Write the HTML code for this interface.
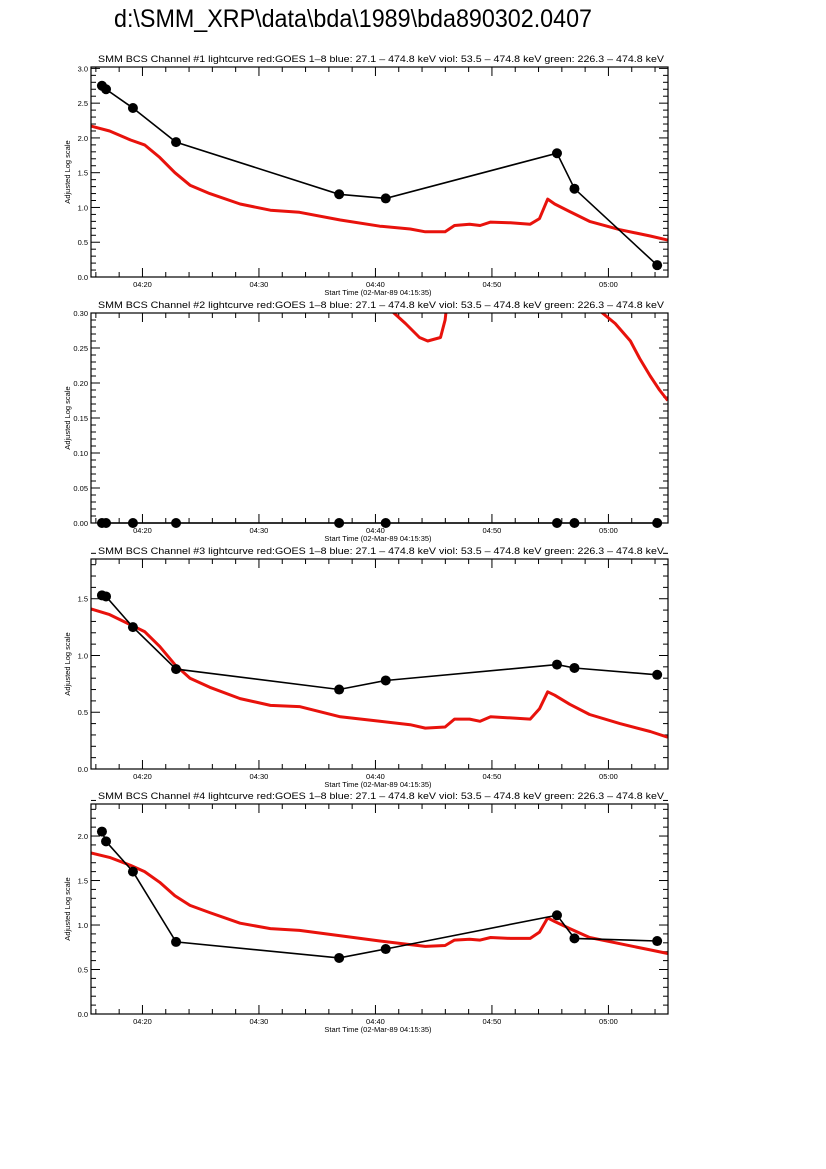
<!DOCTYPE html>
<html><head><meta charset="utf-8"><style>
html,body{margin:0;padding:0;background:#fff;}
svg{display:block;font-family:"Liberation Sans",sans-serif;}
</style></head><body>
<svg id="chart" width="826" height="1169" viewBox="0 0 826 1169" xmlns="http://www.w3.org/2000/svg">
<rect width="826" height="1169" fill="#fff"/>
<text x="114" y="27" font-size="25" textLength="478" lengthAdjust="spacingAndGlyphs">d:\SMM_XRP\data\bda\1989\bda890302.0407</text>
</svg>
<script>
// time in minutes since 04:15:35
const dotTimes = [0.94, 1.29, 3.6, 7.3, 21.3, 25.3, 40.0, 41.5, 48.6];
const dotVals1 = [2.75, 2.70, 2.43, 1.94, 1.19, 1.13, 1.78, 1.27, 0.17];
const dotVals2 = [0, 0, 0, 0, 0, 0, 0, 0, 0];
const dotVals3 = [1.53, 1.52, 1.25, 0.88, 0.70, 0.78, 0.92, 0.89, 0.83];
const dotVals4 = [2.05, 1.94, 1.60, 0.81, 0.63, 0.73, 1.11, 0.85, 0.82];
const redTimes = [0,1.6,3.4,4.6,5.9,7.2,8.5,10.2,12.8,15.4,17.9,21.4,24.8,27.4,28.7,30.4,31.2,32.5,33.4,34.3,36.0,37.7,38.5,39.2,39.8,41.1,42.8,45.4,48.0,49.5];
const redVals1 = [2.17,2.10,1.97,1.90,1.72,1.50,1.32,1.20,1.05,0.96,0.93,0.82,0.73,0.69,0.65,0.65,0.74,0.76,0.74,0.79,0.78,0.76,0.84,1.12,1.05,0.94,0.80,0.68,0.59,0.53];
const redVals3 = [1.41,1.36,1.27,1.21,1.08,0.92,0.80,0.72,0.62,0.56,0.55,0.46,0.42,0.39,0.36,0.37,0.44,0.44,0.42,0.46,0.45,0.44,0.53,0.68,0.65,0.57,0.48,0.40,0.33,0.28];
const redVals4 = [1.81,1.76,1.67,1.60,1.48,1.33,1.22,1.14,1.02,0.96,0.94,0.88,0.82,0.78,0.76,0.77,0.83,0.84,0.83,0.86,0.85,0.85,0.92,1.08,1.04,0.96,0.86,0.79,0.72,0.68];
const red2TimesA = [25.2,26.0,27.0,28.2,28.9,30.0,30.4,30.6];
const red2ValsA = [0.32,0.30,0.285,0.265,0.26,0.265,0.29,0.32];
const red2TimesB = [43.5,43.9,45.0,46.3,47.1,48.0,48.8,49.5];
const red2ValsB = [0.32,0.30,0.285,0.26,0.235,0.21,0.19,0.175];
const xTickLabels = ["04:20","04:30","04:40","04:50","05:00"];
const xTickTimes = [4.417, 14.417, 24.417, 34.417, 44.417];

const NS = "http://www.w3.org/2000/svg";
const svg = document.getElementById('chart');
const X0 = 91, X1 = 668, TMAX = 49.53, H = 210;
function xs(t){ return X0 + t/TMAX*(X1-X0); }
function mk(tag, attrs, parent){
  const e = document.createElementNS(NS, tag);
  for (const k in attrs) e.setAttribute(k, attrs[k]);
  (parent||svg).appendChild(e);
  return e;
}
const panels = [
  {n:1, top:67, ymax:3.02, major:0.5, minor:0.1, dec:1, dots:dotVals1, reds:[[redTimes, redVals1]]},
  {n:2, top:313, ymax:0.30, major:0.05, minor:0.01, dec:2, dots:dotVals2, reds:[[red2TimesA, red2ValsA],[red2TimesB, red2ValsB]]},
  {n:3, top:559, ymax:1.85, major:0.5, minor:0.1, dec:1, dots:dotVals3, reds:[[redTimes, redVals3]]},
  {n:4, top:804, ymax:2.36, major:0.5, minor:0.1, dec:1, dots:dotVals4, reds:[[redTimes, redVals4]]}
];
panels.forEach(p => {
  const g = mk('g', {});
  
  
  const bot = p.top + H;
  const ys = v => bot - v/p.ymax*H;
  const clipId = 'clip' + p.n;
  const cp = mk('clipPath', {id: clipId}, g);
  mk('rect', {x: X0, y: p.top, width: X1-X0, height: H}, cp);
  const title = mk('text', {x: 98, y: p.top-5, 'font-size': 9, textLength: 566, lengthAdjust: 'spacingAndGlyphs'}, g);
  title.textContent = 'SMM BCS Channel #' + p.n + ' lightcurve  red:GOES 1\u20138  blue: 27.1 \u2013 474.8 keV  viol: 53.5 \u2013 474.8 keV  green: 226.3 \u2013 474.8 keV';
  
  
  // y ticks
  const nMin = Math.round(p.ymax/p.minor + 1e-6);
  for (let i = 0; i <= nMin; i++) {
    const v = i*p.minor; const y = ys(v);
    const isMaj = Math.abs((v/p.major) - Math.round(v/p.major)) < 1e-6;
    const L = isMaj ? 9 : 5;
    mk('line', {x1: X0, x2: X0+L, y1: y, y2: y, stroke: '#000', 'stroke-width': 1}, g);
    mk('line', {x1: X1, x2: X1-L, y1: y, y2: y, stroke: '#000', 'stroke-width': 1}, g);
    if (isMaj) {
      const t = mk('text', {x: X0-3, y: y+3, 'font-size': 7.5, 'text-anchor': 'end'}, g);
      t.textContent = v.toFixed(p.dec);
      
      
    }
  }
  // x ticks
  for (let t = 0.417; t < TMAX; t += 2) {
    const x = xs(t);
    const maj = Math.abs(((t-4.417)/10) - Math.round((t-4.417)/10)) < 1e-3;
    const L = maj ? 9 : 5;
    mk('line', {x1: x, x2: x, y1: bot, y2: bot-L, stroke: '#000', 'stroke-width': 1}, g);
    mk('line', {x1: x, x2: x, y1: p.top, y2: p.top+L, stroke: '#000', 'stroke-width': 1}, g);
  }
  xTickLabels.forEach((lab, i) => {
    const t = mk('text', {x: xs(xTickTimes[i]), y: bot+10, 'font-size': 7.5, 'text-anchor': 'middle'}, g);
    t.textContent = lab;
    
    
  });
  const xl = mk('text', {x: 378, y: bot+18, 'font-size': 7.5, 'text-anchor': 'middle'}, g);
  xl.textContent = 'Start Time (02-Mar-89 04:15:35)';
  
  
  const yl = mk('text', {x: 0, y: 0, 'font-size': 7.5, 'text-anchor': 'middle', transform: 'translate(70,' + (p.top+H/2) + ') rotate(-90)'}, g);
  yl.textContent = 'Adjusted Log scale';
  
  
  // red series
  const rg = mk('g', {'clip-path': 'url(#' + clipId + ')'}, g);
  p.reds.forEach(([ts, vs]) => {
    const pts = ts.map((t, i) => xs(t).toFixed(1) + ',' + ys(vs[i]).toFixed(1)).join(' ');
    const pl = mk('polyline', {points: pts, fill: 'none', stroke: '#e8120c', 'stroke-width': 3, 'stroke-linejoin': 'round'}, rg);
    
    
  });
  // black series
  const bpts = dotTimes.map((t, i) => xs(t).toFixed(1) + ',' + ys(p.dots[i]).toFixed(1)).join(' ');
  const bl = mk('polyline', {points: bpts, fill: 'none', stroke: '#000', 'stroke-width': 1.6}, g);
  
  
  dotTimes.forEach((t, i) => {
    const c = mk('circle', {cx: xs(t), cy: ys(p.dots[i]), r: 5, fill: '#000'}, g);
    
    
  });
  const fr = mk('rect', {x: X0, y: p.top, width: X1-X0, height: H, fill: 'none', stroke: '#000', 'stroke-width': 1.2}, g);
  
  
});
</script>
</body></html>
